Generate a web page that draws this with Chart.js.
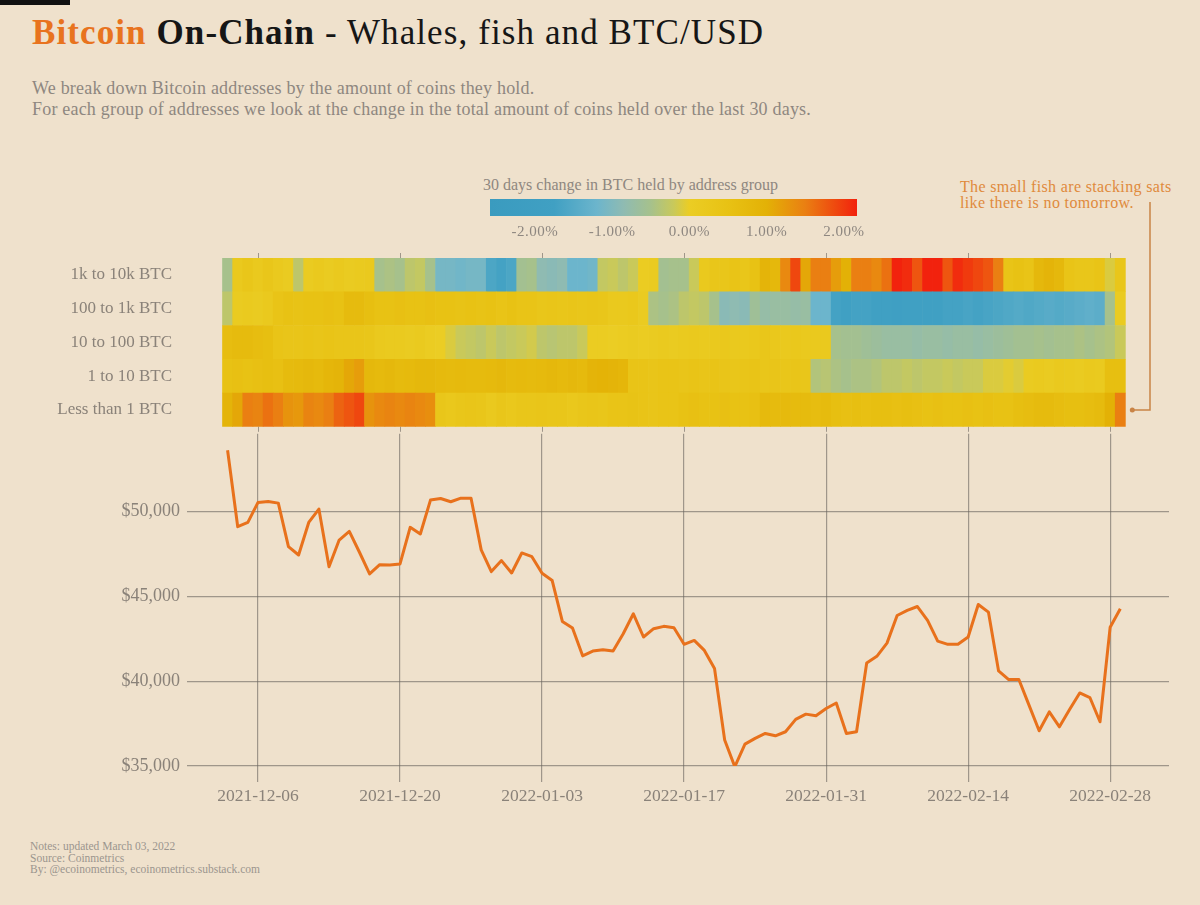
<!DOCTYPE html>
<html>
<head>
<meta charset="utf-8">
<script src="https://cdn.jsdelivr.net/npm/chart.js@4.4.0/dist/chart.umd.min.js"></script>
<style>
  body { margin: 0; background: #efe1cc; }
  #page { position: relative; width: 1200px; height: 905px; overflow: hidden; background: #efe1cc; font-family: "Liberation Serif", serif; }
  #topbar { position: absolute; left: 0; top: 0; width: 70px; height: 5px; background: #111; }
  #title { position: absolute; left: 32px; top: 13px; font-size: 35px; line-height: 40px; letter-spacing: 1.1px; color: #161616; white-space: nowrap; }
  #title .o { color: #e8731e; font-weight: bold; }
  #sub { position: absolute; left: 32px; top: 78px; font-size: 18px; line-height: 21px; letter-spacing: 0.2px; color: #8e8780; white-space: nowrap; }
  #cbTitle { position: absolute; left: 483px; top: 176px; font-size: 16px; line-height: 18px; color: #8e8780; white-space: nowrap; }
  #cbBar { position: absolute; left: 490px; top: 199px; width: 367px; height: 17px; }
  .cbLab { position: absolute; top: 222px; font-size: 15px; line-height: 18px; letter-spacing: 0.5px; color: #8e8780; transform: translateX(-50%); white-space: nowrap; }
  #note { position: absolute; left: 960px; top: 179px; font-size: 16px; line-height: 16px; letter-spacing: 0.35px; color: #e08a3c; white-space: nowrap; }
  #foot { position: absolute; left: 30px; top: 841px; font-size: 11.5px; line-height: 11.5px; color: #9b958e; white-space: nowrap; }
  canvas { position: absolute; left: 0; }
  #heat { top: 170px; }
  #price { top: 416px; }
</style>
</head>
<body>
<div id="page">
  <div id="topbar"></div>
  <div id="title"><span class="o">Bitcoin</span> <b>On-Chain</b> - Whales, fish and BTC/USD</div>
  <div id="sub">We break down Bitcoin addresses by the amount of coins they hold.<br>For each group of addresses we look at the change in the total amount of coins held over the last 30 days.</div>
  <div id="cbTitle">30 days change in BTC held by address group</div>
  <div id="cbBar"></div>
  <div id="note">The small fish are stacking sats<br>like there is no tomorrow.</div>
  <div id="foot">Notes: updated March 03, 2022<br>Source: Coinmetrics<br>By: @ecoinometrics, ecoinometrics.substack.com</div>
  <canvas id="heat" width="1200" height="282"></canvas>
  <canvas id="price" width="1200" height="404"></canvas>
</div>
<script>
// day 0 = 2021-12-03 ... day 88 = 2022-03-01
const groups = ['Less than 1 BTC', '1 to 10 BTC', '10 to 100 BTC', '100 to 1k BTC', '1k to 10k BTC'];

const tickDays = [3, 17, 31, 45, 59, 73, 87];
const tickLabels = ['2021-12-06', '2021-12-20', '2022-01-03', '2022-01-17', '2022-01-31', '2022-02-14', '2022-02-28'];
const priceTicks = [35000, 40000, 45000, 50000];
const legendTicks = [-2, -1, 0, 1, 2];

// 30 day change in BTC held (%)
const lessThan1 = [0.9, 1.1, 1.5, 1.45, 1.6, 1.5, 1.3, 1.25, 1.45, 1.4,
  1.5, 1.7, 1.8, 1.9, 1.3, 1.4, 1.45, 1.4, 1.45, 1.4,
  1.35, 0.3, 0.25, 0.3, 0.35, 0.3, 0.2, 0.3, 0.25, 0.3,
  0.3, 0.35, 0.3, 0.3, 0.25, 0.3, 0.35, 0.3, 0.4, 0.4,
  0.45, 0.4, 0.35, 0.4, 0.4, 0.5, 0.55, 0.5, 0.5, 0.55,
  0.5, 0.5, 0.55, 0.75, 0.7, 0.75, 0.7, 0.7, 0.65, 0.7,
  0.6, 0.55, 0.6, 0.55, 0.6, 0.6, 0.55, 0.6, 0.55, 0.5,
  0.55, 0.5, 0.5, 0.55, 0.5, 0.55, 0.5, 0.5, 0.6, 0.65,
  0.7, 0.7, 0.65, 0.6, 0.6, 0.65, 0.7, 1.0, 1.5];

const btc1to10 = [0.5, 0.55, 0.5, 0.55, 0.6, 0.55, 0.7, 0.75, 0.8, 0.75,
  0.85, 0.9, 1.1, 1.2, 0.8, 0.75, 0.8, 0.7, 0.75, 0.8,
  0.8, 0.75, 0.7, 0.75, 0.7, 0.7, 0.75, 0.8, 0.7, 0.75,
  0.7, 0.75, 0.8, 0.75, 0.8, 0.75, 0.9, 0.95, 0.9, 0.85,
  0.4, 0.4, 0.35, 0.4, 0.4, 0.35, 0.4, 0.35, 0.4, 0.35,
  0.3, 0.35, 0.4, 0.3, 0.35, 0.3, 0.35, 0.3, -0.4, -0.35,
  -0.45, -0.5, -0.45, -0.45, -0.4, -0.3, -0.3, -0.25, -0.3, -0.25,
  -0.25, -0.2, -0.25, -0.2, -0.2, -0.1, -0.1, -0.05, -0.1, 0.1,
  0.15, 0.1, 0.2, 0.15, 0.1, 0.2, 0.15, 0.6, 0.6];

const btc10to100 = [0.65, 0.7, 0.7, 0.65, 0.6, 0.4, 0.35, 0.35, 0.4, 0.35,
  0.4, 0.35, 0.35, 0.35, 0.3, 0.2, 0.15, 0.15, 0.1, 0.15,
  0.05, 0.0, -0.1, -0.2, -0.25, -0.3, -0.2, -0.3, -0.25, -0.2,
  -0.15, -0.3, -0.35, -0.3, -0.3, -0.2, 0.05, 0.05, 0.0, 0.05,
  0.1, 0.05, 0.1, 0.15, 0.1, 0.15, 0.2, 0.15, 0.2, 0.25,
  0.2, 0.2, 0.25, 0.3, 0.25, 0.2, 0.25, 0.2, 0.2, 0.2,
  -0.5, -0.55, -0.55, -0.6, -0.65, -0.7, -0.7, -0.7, -0.75, -0.7,
  -0.7, -0.75, -0.7, -0.7, -0.75, -0.7, -0.65, -0.6, -0.55, -0.55,
  -0.5, -0.55, -0.5, -0.5, -0.45, -0.5, -0.45, -0.4, -0.2];

const btc100to1k = [-0.3, 0.1, 0.15, 0.1, 0.2, 0.4, 0.5, 0.45, 0.5, 0.5,
  0.55, 0.5, 0.7, 0.7, 0.6, 0.5, 0.5, 0.55, 0.5, 0.5,
  0.55, 0.5, 0.5, 0.45, 0.5, 0.45, 0.5, 0.4, 0.5, 0.4,
  0.4, 0.3, 0.35, 0.3, 0.35, 0.3, 0.35, 0.3, 0.2, 0.2,
  0.25, 0.1, -0.45, -0.5, -0.45, -0.3, -0.25, -0.3, -0.5, -0.9,
  -0.85, -0.9, -0.6, -0.75, -0.7, -0.7, -0.75, -0.7, -1.2, -1.2,
  -1.7, -1.75, -1.7, -1.7, -1.75, -1.8, -1.85, -1.8, -1.75, -1.8,
  -1.75, -1.7, -1.7, -1.65, -1.7, -1.65, -1.6, -1.55, -1.5, -1.55,
  -1.5, -1.45, -1.5, -1.45, -1.4, -1.35, -1.4, -0.5, 0.1];

const btc1kto10k = [-0.5, 0.2, 0.3, 0.2, 0.3, 0.2, 0.1, -0.3, 0.1, 0.2,
  0.1, 0.2, 0.1, 0.15, 0.2, -0.5, -0.45, -0.5, -0.3, -0.25,
  -0.5, -1.1, -1.1, -1.15, -1.1, -1.1, -1.6, -1.7, -1.6, -0.55,
  -0.5, -0.85, -0.9, -0.85, -1.2, -1.2, -1.15, -0.25, -0.2, -0.3,
  -0.2, 0.05, 0.1, -0.55, -0.5, -0.5, -0.2, 0.2, 0.3, 0.3,
  0.4, 0.3, 0.5, 0.9, 0.8, 1.4, 1.9, 1.1, 1.5, 1.5,
  1.2, 1.0, 1.5, 1.5, 1.4, 1.6, 2.2, 2.1, 1.8, 2.3,
  2.2, 1.8, 2.1, 2.0, 1.9, 1.8, 1.5, 0.4, 0.5, 0.4,
  0.8, 0.9, 0.8, 0.4, 0.3, 0.3, 0.4, -0.1, 0.3];

// BTC/USD close
const price = [53630, 49120, 49370, 50550, 50610, 50510, 47940, 47450, 49370, 50160,
  46760, 48330, 48840, 47610, 46330, 46880, 46860, 46920, 49080, 48690,
  50690, 50780, 50590, 50800, 50800, 47750, 46470, 47120, 46390, 47570,
  47350, 46370, 45940, 43530, 43140, 41500, 41780, 41860, 41780, 42800,
  43980, 42610, 43100, 43240, 43160, 42180, 42410, 41820, 40750, 36530,
  34960, 36290, 36630, 36920, 36780, 37020, 37750, 38060, 37960, 38390,
  38720, 36920, 37020, 41080, 41470, 42250, 43880, 44180, 44410, 43590,
  42370, 42180, 42180, 42610, 44530, 44080, 40610, 40100, 40100, 38590,
  37080, 38190, 37310, 38330, 39310, 39040, 37610, 43190, 44280];

const rows = [lessThan1, btc1to10, btc10to100, btc100to1k, btc1kto10k];

// colour scale
const scaleMin = -2.58, scaleMax = 2.17;
const stops = [
  [-2.58, '#3a9bbf'], [-1.75, '#40a0c3'], [-1.2, '#6cb5cc'], [-0.85, '#8fbbb2'],
  [-0.5, '#a6c18c'], [-0.2, '#c9c95a'], [0, '#ebcd24'], [0.5, '#e8c214'],
  [1.0, '#e3b106'], [1.5, '#ea7f12'], [2.17, '#f2220d']
];
function hex(c) { return [parseInt(c.slice(1, 3), 16), parseInt(c.slice(3, 5), 16), parseInt(c.slice(5, 7), 16)]; }
function colorFor(v) {
  v = Math.max(scaleMin, Math.min(scaleMax, v));
  for (let i = 1; i < stops.length; i++) {
    if (v <= stops[i][0]) {
      const a = hex(stops[i - 1][1]), b = hex(stops[i][1]);
      const t = (v - stops[i - 1][0]) / (stops[i][0] - stops[i - 1][0]);
      return 'rgb(' + a.map((c, k) => Math.round(c + (b[k] - c) * t)).join(',') + ')';
    }
  }
  return stops[stops.length - 1][1];
}

// legend bar + labels
let grad = stops.map(s => s[1] + ' ' + ((s[0] - scaleMin) / (scaleMax - scaleMin) * 100).toFixed(1) + '%');
document.getElementById('cbBar').style.background = 'linear-gradient(to right, ' + grad.join(', ') + ')';
legendTicks.forEach(t => {
  let d = document.createElement('div');
  d.className = 'cbLab';
  d.style.left = (490 + (t - scaleMin) / (scaleMax - scaleMin) * 367) + 'px';
  d.textContent = t.toFixed(2) + '%';
  document.getElementById('page').appendChild(d);
});

const textGrey = '#8a8279';
const gridGrey = 'rgba(105, 100, 94, 0.6)';
const xMin = -4, xMax = 92.8;

Chart.defaults.font.family = '"Liberation Serif", serif';
Chart.defaults.color = textGrey;

// small date ticks above / below heatmap + connector to annotation
const heatExtras = {
  id: 'heatExtras',
  afterDraw(chart) {
    const { ctx, chartArea, scales: { x, y } } = chart;
    ctx.save();
    ctx.strokeStyle = gridGrey;
    ctx.lineWidth = 1;
    tickDays.forEach(d => {
      const px = Math.round(x.getPixelForValue(d)) + 0.5;
      ctx.beginPath();
      ctx.moveTo(px, chartArea.top - 5); ctx.lineTo(px, chartArea.top);
      ctx.moveTo(px, chartArea.bottom); ctx.lineTo(px, chartArea.bottom + 5);
      ctx.stroke();
    });
    const last = price.length - 1;
    const dotX = x.getPixelForValue(last) + 12;
    const dotY = y.getPixelForValue(0.5);
    ctx.strokeStyle = '#c98446';
    ctx.fillStyle = '#c98446';
    ctx.lineWidth = 1.5;
    ctx.beginPath();
    ctx.moveTo(dotX, dotY); ctx.lineTo(1150, dotY); ctx.lineTo(1150, 32);
    ctx.stroke();
    ctx.beginPath();
    ctx.arc(dotX, dotY, 2.5, 0, Math.PI * 2);
    ctx.fill();
    ctx.restore();
  }
};

new Chart(document.getElementById('heat'), {
  type: 'bar',
  data: {
    datasets: rows.map((vals, g) => ({
      label: groups[g],
      data: vals.map((v, i) => ({ x: i, y: [g, g + 1] })),
      backgroundColor: vals.map(colorFor),
      borderWidth: 0,
      grouped: false,
      barPercentage: 1,
      categoryPercentage: 1
    }))
  },
  options: {
    responsive: false,
    animation: false,
    layout: { padding: { top: 88, right: 31, bottom: 14, left: 0 } },
    plugins: { legend: { display: false }, tooltip: { enabled: false } },
    scales: {
      x: { type: 'linear', min: xMin, max: xMax, offset: false, display: false },
      y: {
        min: 0, max: 5,
        grid: { display: false, drawTicks: false },
        border: { display: false },
        afterBuildTicks: s => { s.ticks = groups.map((g, i) => ({ value: i + 0.5 })); },
        afterFit: s => { s.width = 187; },
        ticks: {
          padding: 15,
          autoSkip: false,
          font: { size: 17 },
          color: textGrey,
          callback: v => groups[Math.floor(v)]
        }
      }
    }
  },
  plugins: [heatExtras]
});

new Chart(document.getElementById('price'), {
  type: 'line',
  data: {
    datasets: [{
      label: 'BTC/USD',
      data: price.map((p, i) => ({ x: i, y: p })),
      borderColor: '#e8711c',
      borderWidth: 3,
      pointRadius: 0,
      tension: 0,
      borderJoinStyle: 'round'
    }]
  },
  options: {
    responsive: false,
    animation: false,
    layout: { padding: { top: 13, right: 31, bottom: 0, left: 0 } },
    plugins: { legend: { display: false }, tooltip: { enabled: false } },
    scales: {
      x: {
        type: 'linear', min: xMin, max: xMax,
        border: { display: false },
        grid: { color: gridGrey, lineWidth: 1.2, tickLength: 16 },
        afterBuildTicks: s => { s.ticks = tickDays.map(d => ({ value: d })); },
        afterFit: s => { s.height = 54; },
        ticks: {
          padding: 4,
          maxRotation: 0,
          autoSkip: false,
          font: { size: 17.5 },
          color: textGrey,
          callback: (v, i) => tickLabels[i]
        }
      },
      y: {
        min: 35000, max: 54600,
        border: { display: false },
        grid: { color: gridGrey, lineWidth: 1.2, drawTicks: false },
        afterBuildTicks: s => { s.ticks = priceTicks.map(v => ({ value: v })); },
        afterFit: s => { s.width = 187; },
        ticks: {
          padding: 7,
          autoSkip: false,
          font: { size: 18 },
          color: textGrey,
          callback: v => '$' + v.toLocaleString('en-US')
        }
      }
    }
  }
});
</script>
</body>
</html>
